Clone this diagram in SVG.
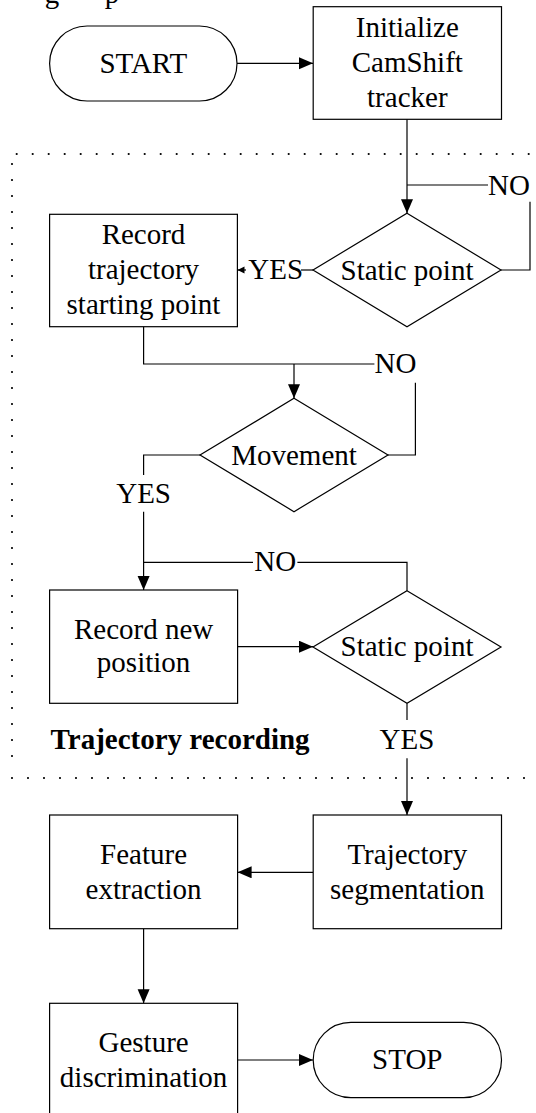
<svg xmlns="http://www.w3.org/2000/svg" width="536" height="1113" viewBox="0 0 536 1113">
<style>
  .shape { fill: #fff; stroke: #000; stroke-width: 1.2; }
  .conn { fill: none; stroke: #000; stroke-width: 1.2; }
  .dots { fill: none; stroke: #000; stroke-width: 2.2; stroke-linecap: round; stroke-dasharray: 0 16; }
  .t { font-family: 'Liberation Serif', 'Times New Roman', Times, 'DejaVu Serif', serif; font-size: 29px; fill: #000; text-anchor: middle; }
  .bold { font-weight: bold; text-anchor: start; }
</style>
<defs>
  <marker id="arrow" markerUnits="userSpaceOnUse" markerWidth="15" markerHeight="13" refX="14" refY="6" orient="auto">
    <path d="M0,0 L14,6 L0,12 Z" fill="#000"/>
  </marker>
  <marker id="arrowSmall" markerUnits="userSpaceOnUse" markerWidth="8" markerHeight="8" refX="7" refY="3.5" orient="auto">
    <path d="M0,0 L7,3.5 L0,7 Z" fill="#000"/>
  </marker>
</defs>

<g id="caption-fragment" font-family="Liberation Serif, serif">
  <text class="t" x="52" y="3">g</text>
  <text class="t" x="112" y="3">p</text>
</g>

<g id="region-border">
  <path class="dots" d="M16.7 154 H536"/>
  <path class="dots" d="M12 164 V772"/>
  <path class="dots" d="M12 778 H536"/>
</g>

<g id="connectors">
  <path class="conn" d="M237 63.3 H313" marker-end="url(#arrow)"/>
  <path class="conn" d="M407 119.3 V213.3" marker-end="url(#arrow)"/>
  <path class="conn" d="M501 270 H530 V201.7"/>
  <path class="conn" d="M488 185 H407"/>
  <path class="conn" d="M313 270 H301"/>
  <path class="conn" d="M246 270 H237.5" marker-end="url(#arrowSmall)"/>
  <path class="conn" d="M143.6 326.7 V364 H374.4"/>
  <path class="conn" d="M294 364 V398.3" marker-end="url(#arrow)"/>
  <path class="conn" d="M388 455 H415.4 V382.7"/>
  <path class="conn" d="M200 455 H143.6 V475"/>
  <path class="conn" d="M143.6 511.7 V590" marker-end="url(#arrow)"/>
  <path class="conn" d="M407 590.7 V562.3 H297.4"/>
  <path class="conn" d="M253 562.3 H143.6"/>
  <path class="conn" d="M237.6 646.7 H313" marker-end="url(#arrow)"/>
  <path class="conn" d="M407 703.3 V720"/>
  <path class="conn" d="M407 758.3 V815" marker-end="url(#arrow)"/>
  <path class="conn" d="M313 872.3 H237.6" marker-end="url(#arrow)"/>
  <path class="conn" d="M143.6 928.7 V1003.3" marker-end="url(#arrow)"/>
  <path class="conn" d="M237.6 1060 H313" marker-end="url(#arrow)"/>
  <text class="t" x="509" y="195">NO</text>
  <text class="t" x="275.7" y="279">YES</text>
  <text class="t" x="395.4" y="372.5">NO</text>
  <text class="t" x="143.6" y="503">YES</text>
  <text class="t" x="275.2" y="570.5">NO</text>
  <text class="t" x="407" y="748.5">YES</text>
</g>

<g id="start">
  <rect class="shape" x="49.6" y="26" width="187.4" height="75" rx="37.5" ry="37.5"/>
  <text class="t" x="143.3" y="73">START</text>
</g>

<g id="init">
  <rect class="shape" x="313.2" y="6.7" width="188.3" height="112.6"/>
  <text class="t" x="407.3" y="36.5">Initialize</text>
  <text class="t" x="407.3" y="72">CamShift</text>
  <text class="t" x="407.3" y="106.5">tracker</text>
</g>

<g id="static1">
  <path class="shape" d="M407 213.3 L501 270 L407 326.7 L313 270 Z"/>
  <text class="t" x="407" y="279.5">Static point</text>
</g>

<g id="record-start">
  <rect class="shape" x="49.6" y="214.3" width="187.8" height="112.4"/>
  <text class="t" x="143.5" y="244">Record</text>
  <text class="t" x="143.5" y="279">trajectory</text>
  <text class="t" x="143.5" y="313.5">starting point</text>
</g>

<g id="movement">
  <path class="shape" d="M294 398.3 L388 455 L294 511.7 L200 455 Z"/>
  <text class="t" x="294" y="464.5">Movement</text>
</g>

<g id="record-new">
  <rect class="shape" x="49.6" y="590" width="188" height="113.3"/>
  <text class="t" x="143.6" y="638.5">Record new</text>
  <text class="t" x="143.6" y="672">position</text>
</g>

<g id="static2">
  <path class="shape" d="M407 590.7 L501 647 L407 703.3 L313 647 Z"/>
  <text class="t" x="407" y="655.5">Static point</text>
</g>

<g id="region-label">
  <text class="t bold" x="50.6" y="748.5">Trajectory recording</text>
</g>

<g id="segmentation">
  <rect class="shape" x="313.2" y="815" width="188.3" height="113.7"/>
  <text class="t" x="407.3" y="863.5">Trajectory</text>
  <text class="t" x="407.3" y="898.5">segmentation</text>
</g>

<g id="feature">
  <rect class="shape" x="49.6" y="815" width="188" height="113.7"/>
  <text class="t" x="143.6" y="863.5">Feature</text>
  <text class="t" x="143.6" y="898.5">extraction</text>
</g>

<g id="gesture">
  <rect class="shape" x="49.6" y="1003.3" width="188" height="115"/>
  <text class="t" x="143.6" y="1052">Gesture</text>
  <text class="t" x="143.6" y="1086.5">discrimination</text>
</g>

<g id="stop">
  <rect class="shape" x="313.2" y="1022.3" width="188.3" height="75.4" rx="37.7" ry="37.7"/>
  <text class="t" x="407.3" y="1069">STOP</text>
</g>
</svg>
